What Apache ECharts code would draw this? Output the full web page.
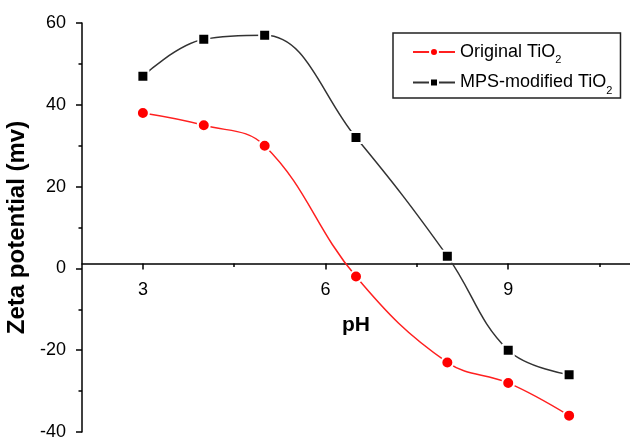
<!DOCTYPE html>
<html>
<head>
<meta charset="utf-8">
<script src="https://cdn.jsdelivr.net/npm/echarts@6/dist/echarts.min.js"></script>
<style>
  html, body { margin: 0; padding: 0; background: #fff; }
  #main { width: 630px; height: 437px; }
</style>
</head>
<body>
<div id="main"></div>
<script>
let chart = echarts.init(document.getElementById("main"));

// 資料
let phValues = [3, 4, 5, 6.5, 8, 9, 10];
let originalZeta = [38, 35, 30, -2, -23, -28, -36];
let mpsZeta = [47, 56, 57, 32, 3, -20, -26];
let xMajorTicks = [3, 6, 9];
let xMinorTicks = [4.5, 7.5, 10.5];

function pairs(xs, ys) {
    return xs.map((x, i) => [x, ys[i]]);
}

let axisColor = '#000';
let font = 'Liberation Sans, Arial, Helvetica, sans-serif';
// x 軸線畫在 y≈1.2 的位置 (grid 底部往上移)
let xAxisOffset = -168.5;

let option = {
    animation: false,
    backgroundColor: '#fff',
    grid: { left: 82, right: 0, top: 23, bottom: 5, containLabel: false, outerBoundsMode: 'none' },
    legend: {
        orient: 'vertical',
        left: 393,
        top: 33,
        padding: [10, 8, 2, 19],
        itemGap: 8,
        itemWidth: 42,
        itemHeight: 10,
        borderColor: '#222',
        borderWidth: 1.5,
        textStyle: {
            color: '#000',
            fontFamily: font,
            rich: {
                a: { fontSize: 18, fontFamily: font, color: '#000', verticalAlign: 'middle' },
                s: { fontSize: 11, fontFamily: font, color: '#000', verticalAlign: 'bottom', lineHeight: 27 }
            }
        },
        formatter: (name) => {
            return '{a|' + name.replace('TiO2', 'TiO') + '}{s|2}';
        },
        data: ['Original TiO2', 'MPS-modified TiO2']
    },
    xAxis: [
        {
            type: 'value',
            min: 2,
            max: 11,
            position: 'bottom',
            offset: xAxisOffset,
            name: 'pH',
            nameLocation: 'middle',
            nameGap: 51,
            nameTextStyle: { fontSize: 21, fontWeight: 'bold', color: '#000', fontFamily: font },
            axisLine: { show: true, onZero: false, lineStyle: { color: axisColor, width: 1.5 } },
            axisTick: { show: true, customValues: xMajorTicks, length: 6, lineStyle: { color: axisColor, width: 1.5 } },
            axisLabel: { show: true, customValues: xMajorTicks, margin: 18, fontSize: 18, color: '#000', fontFamily: font },
            splitLine: { show: false }
        },
        {
            type: 'value',
            min: 2,
            max: 11,
            position: 'bottom',
            offset: xAxisOffset,
            axisLine: { show: false, onZero: false },
            axisTick: { show: true, customValues: xMinorTicks, length: 3.5, lineStyle: { color: axisColor, width: 1.5 } },
            axisLabel: { show: false },
            splitLine: { show: false }
        }
    ],
    yAxis: {
        type: 'value',
        min: -40,
        max: 60,
        interval: 20,
        name: 'Zeta potential (mv)',
        nameLocation: 'middle',
        nameGap: 51,
        nameTextStyle: { fontSize: 24, fontWeight: 'bold', color: '#000', fontFamily: font },
        axisLine: { show: true, onZero: false, lineStyle: { color: axisColor, width: 1.5 } },
        axisTick: { show: true, length: 6, lineStyle: { color: axisColor, width: 1.5 } },
        minorTick: { show: true, splitNumber: 2, length: 3.5, lineStyle: { color: axisColor, width: 1.5 } },
        axisLabel: { margin: 16, fontSize: 18, color: '#000', fontFamily: font },
        splitLine: { show: false }
    },
    series: [
        {
            name: 'Original TiO2',
            type: 'line',
            smooth: 0.4,
            data: pairs(phValues, originalZeta),
            symbol: 'circle',
            symbolSize: 12,
            lineStyle: { color: '#ff2020', width: 1.5 },
            itemStyle: { color: '#ff0000', borderColor: '#fff', borderWidth: 2 },
            z: 3
        },
        {
            name: 'MPS-modified TiO2',
            type: 'line',
            smooth: 0.4,
            data: pairs(phValues, mpsZeta),
            symbol: 'rect',
            symbolSize: 11,
            lineStyle: { color: '#333', width: 1.5 },
            itemStyle: { color: '#000', borderColor: '#fff', borderWidth: 2 },
            z: 3
        }
    ]
};

chart.setOption(option);
</script>
</body>
</html>
